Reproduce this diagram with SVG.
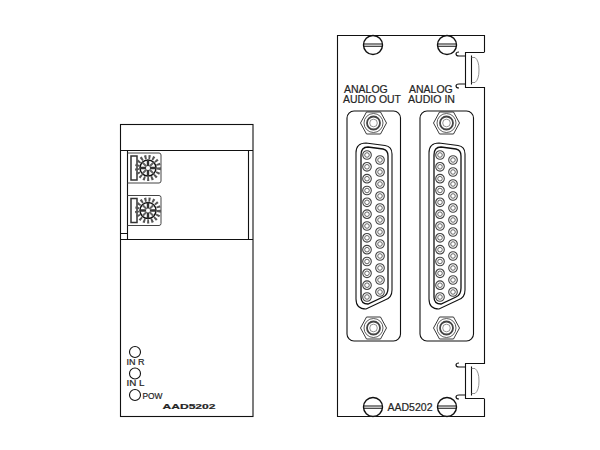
<svg xmlns="http://www.w3.org/2000/svg" xmlns:xlink="http://www.w3.org/1999/xlink" width="600" height="450" viewBox="0 0 600 450">
<style>
.l{fill:none;stroke:#111;stroke-width:1.1}
text{font-family:"Liberation Sans",Arial,sans-serif;fill:#222;stroke:#222;stroke-width:.2;opacity:.99}
</style>
<defs>
<g id="pin"><circle r="4.3" fill="none" stroke="#444" stroke-width="1.100"/><circle r="2.300" fill="none" stroke="#555" stroke-width=".9"/></g>
<g id="screw"><circle r="9.500" fill="#fff" stroke="#111" stroke-width="1.400"/><path d="M-9.500-1H9.500M-9.500 1.200H9.500" class="l"/></g>
<g id="nut"><path d="M-13 0L-7-11H7L13 0L7 11H-7Z" fill="none" stroke="#222" stroke-width=".9"/><circle r="9.500" fill="none" stroke="#333" stroke-width=".8"/><circle r="6.500" fill="none" stroke="#444" stroke-width="1.800"/><circle r="3.800" fill="none" stroke="#666" stroke-width=".7"/></g>
<g id="column">
<use xlink:href="#pin" x="0" y="0"/><use xlink:href="#pin" x="0" y="11.800"/><use xlink:href="#pin" x="0" y="23.700"/><use xlink:href="#pin" x="0" y="35.500"/><use xlink:href="#pin" x="0" y="47.300"/><use xlink:href="#pin" x="0" y="59.200"/><use xlink:href="#pin" x="0" y="71"/><use xlink:href="#pin" x="0" y="82.800"/><use xlink:href="#pin" x="0" y="94.700"/><use xlink:href="#pin" x="0" y="106.500"/><use xlink:href="#pin" x="0" y="118.300"/><use xlink:href="#pin" x="0" y="130.200"/><use xlink:href="#pin" x="0" y="142"/>
<use xlink:href="#pin" x="13" y="5"/><use xlink:href="#pin" x="13" y="17"/><use xlink:href="#pin" x="13" y="29"/><use xlink:href="#pin" x="13" y="41"/><use xlink:href="#pin" x="13" y="53"/><use xlink:href="#pin" x="13" y="65"/><use xlink:href="#pin" x="13" y="77"/><use xlink:href="#pin" x="13" y="89"/><use xlink:href="#pin" x="13" y="101"/><use xlink:href="#pin" x="13" y="113"/><use xlink:href="#pin" x="13" y="125"/><use xlink:href="#pin" x="13" y="137"/>
</g>
<g id="port">
<rect x="347" y="111" width="53.500" height="230" rx="7" class="l"/>
<path d="M356 153Q356 143 366 143L385 145.500Q392 146.500 392 154V290Q392 298 385 300L366 309Q356 309 356 299Z" class="l"/>
<path d="M361 155Q361 147 368 147L383 149Q388 150 388 156V288Q388 295 383 297L368 304Q361 304 361 297Z" fill="none" stroke="#111" stroke-width="1.300"/>
<use xlink:href="#column" x="367" y="155"/>
<use xlink:href="#nut" x="373.500" y="123"/>
<use xlink:href="#nut" x="373.500" y="328"/>
</g>
<g id="dial">
<path d="M-20.500-15H11Q13-15 13-13V13Q13 15 11 15H-20.500" fill="none" stroke="#444" stroke-width="1"/>
<rect x="-17" y="-12" width="6" height="24" fill="none" stroke="#333" stroke-width="1.500"/>
<circle r="11" fill="none" stroke="#555" stroke-width="4" stroke-dasharray="2 2"/>
<circle r="8" fill="none" stroke="#111" stroke-width="1.500"/>
<path d="M-8 0H8M0-8V8" stroke="#333" stroke-width="2.400" fill="none"/>
<path d="M-5.500-5.500L5.500 5.500M5.500-5.500L-5.500 5.500" stroke="#666" stroke-width="2" fill="none"/>
<circle r="2" fill="#fff"/>
</g>
<g id="latch">
<path d="M484.500 0H465.500V35H484.500" class="l"/>
<path d="M465.500 3.500H459Q456 3.500 456 1.500Q456-.5 459-.5M465.500 31.500H459Q456 31.500 456 33.500Q456 35.500 459 35.500M471.500 3V32" class="l"/>
<path d="M471.500 5H475Q479 8 479 17.500Q479 27 475 30H471.500" fill="none" stroke="#777" stroke-width=".8"/>
</g>
</defs>

<g id="front-panel">
<rect x="120.500" y="124.500" width="132.500" height="292" class="l"/>
<path d="M120.500 150.500H253M120.500 239.500H253M127.500 150.500V239.500M248.500 150.500V239.500M120.500 233.500H127.500" class="l"/>
<use xlink:href="#dial" x="148" y="168"/>
<use xlink:href="#dial" x="148" y="210.500"/>
<circle cx="135" cy="352" r="5.500" class="l"/>
<circle cx="135" cy="373.500" r="5.500" class="l"/>
<circle cx="135" cy="395" r="5.500" class="l"/>
<text x="126.500" y="364.500" font-size="8.500" textLength="18" lengthAdjust="spacingAndGlyphs">IN R</text>
<text x="126.500" y="386" font-size="8.500" textLength="18" lengthAdjust="spacingAndGlyphs">IN L</text>
<text x="142.500" y="398.500" font-size="8.500" textLength="20" lengthAdjust="spacingAndGlyphs">POW</text>
<text x="162.500" y="408.500" font-size="8" font-weight="bold" textLength="53" lengthAdjust="spacingAndGlyphs">AAD5202</text>
</g>

<g id="rear-panel">
<path d="M484.500 52V35.500H337.500V416.500H484.500V399M484.500 87V364" class="l"/>
<use xlink:href="#latch" y="52.500"/>
<use xlink:href="#latch" y="363.500"/>
<use xlink:href="#screw" x="373" y="45"/>
<use xlink:href="#screw" x="447" y="45"/>
<use xlink:href="#screw" x="373" y="407"/>
<use xlink:href="#screw" x="447" y="407"/>
<use xlink:href="#port"/>
<use xlink:href="#port" x="73"/>
<text x="344" y="92.500" font-size="10.500">ANALOG</text>
<text x="343" y="103" font-size="10.500" textLength="58" lengthAdjust="spacingAndGlyphs">AUDIO OUT</text>
<text x="409" y="92.500" font-size="10.500">ANALOG</text>
<text x="408" y="103" font-size="10.500" textLength="47" lengthAdjust="spacingAndGlyphs">AUDIO IN</text>
<text x="387.500" y="411" font-size="10.500" textLength="45" lengthAdjust="spacingAndGlyphs">AAD5202</text>
</g>
</svg>
